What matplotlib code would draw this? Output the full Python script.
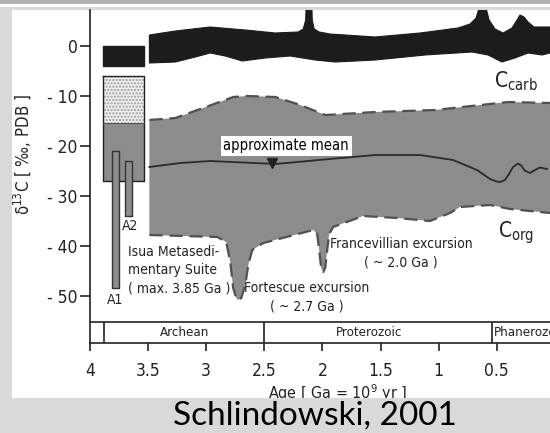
import matplotlib
matplotlib.use('Agg')
import matplotlib.pyplot as plt
from matplotlib import font_manager
from matplotlib.patches import Rectangle

# ---- data (age in Ga, delta13C in permil) ----
carb_top_age = [3.489, 3.266, 2.965, 2.664, 2.406, 2.208, 2.165, 2.144, 2.139, 2.092, 2.088, 2.071,
                2.028, 1.934, 1.547, 1.160, 0.833, 0.730, 0.678, 0.652, 0.635, 0.609, 0.592, 0.566,
                0.515, 0.446, 0.369, 0.326, 0.300, 0.266, 0.231, 0.180, 0.042]
carb_top_val = [2.2, 3.0, 3.8, 3.2, 2.6, 2.8, 3.4, 5.2, 9.2, 9.2, 5.2, 3.4,
                2.8, 2.4, 1.8, 2.6, 3.6, 4.4, 5.6, 7.6, 9.2, 9.2, 7.6, 5.2,
                3.4, 2.6, 3.6, 5.2, 6.2, 5.8, 4.8, 3.8, 3.8]
carb_bot_age = [3.489, 3.266, 3.094, 2.965, 2.836, 2.690, 2.492, 2.277, 2.062, 1.890, 1.547,
                1.117, 0.713, 0.575, 0.455, 0.343, 0.231, 0.111, 0.042]
carb_bot_val = [-3.4, -3.2, -2.2, -1.4, -2.0, -3.0, -2.4, -2.0, -2.8, -3.2, -2.8,
                -1.8, -1.2, -1.8, -3.2, -2.4, -1.4, -1.8, -1.4]

org_top_age = [3.489, 3.266, 3.051, 2.767, 2.647, 2.406, 2.191, 1.976, 1.547, 1.031, 0.799, 0.403, 0.042]
org_top_val = [-14.8, -14.4, -12.6, -10.2, -10.0, -10.2, -11.8, -13.8, -13.2, -12.8, -12.2, -11.2, -11.4]
org_bot_age = [3.489, 2.905, 2.828, 2.793, 2.768, 2.742, 2.725, 2.698, 2.664, 2.638, 2.604, 2.509,
               2.277, 2.079, 2.045, 2.028, 2.011, 1.993, 1.976, 1.959, 1.942, 1.908, 1.650,
               1.358, 1.074, 0.902, 0.816, 0.558, 0.386, 0.042]
org_bot_val = [-37.8, -38.2, -39.2, -43.2, -48.4, -50.4, -50.8, -50.4, -47.8, -43.8, -40.8, -39.4,
               -38.0, -36.8, -37.6, -40.8, -44.4, -45.2, -44.4, -40.8, -37.6, -36.2, -34.0,
               -34.4, -35.0, -33.4, -32.2, -31.8, -32.6, -33.4]

mean_age = [3.489, 3.223, 2.965, 2.406, 1.934, 1.547, 1.160, 0.876, 0.670, 0.558, 0.500, 0.472,
            0.430, 0.400, 0.360, 0.317, 0.290, 0.260, 0.214, 0.171, 0.128, 0.068]
mean_val = [-24.2, -23.4, -23.0, -23.6, -22.6, -21.8, -21.8, -22.8, -24.8, -26.6, -27.1, -27.2,
            -26.8, -25.8, -24.2, -23.5, -23.9, -24.9, -25.4, -24.8, -24.3, -24.6]

# Isua column (age range, value ranges)
isua_age = [3.885, 3.532]
isua_carb = [0.0, -4.1]
isua_stipple = [-6.0, -15.5]
isua_org = [-15.5, -27.1]
a1_age, a1_val = [3.809, 3.749], [-21.0, -48.4]
a2_age, a2_val = [3.697, 3.637], [-23.0, -34.0]

era_bounds = [3.88, 2.5, 0.54]
era_names = ['Archean', 'Proterozoic', 'Phanerozoic']
era_text_x = [3.19, 1.60, 0.525]

xticks = [4, 3.5, 3, 2.5, 2, 1.5, 1, 0.5]
xtick_labels = ['4', '3.5', '3', '2.5', '2', '1.5', '1', '0.5']
yticks = [0, -10, -20, -30, -40, -50]
ytick_labels = ['0', '- 10', '- 20', '- 30', '- 40', '- 50']

# ---- fonts: prefer a narrow/condensed sans (the scan uses Helvetica Narrow) ----
fam, stretch, narrow_found = 'Liberation Sans', 'normal', False
cands = [f for f in font_manager.fontManager.ttflist
         if ('narrow' in f.fname.lower() or 'condensed' in f.fname.lower())
         and f.style == 'normal' and f.weight in (400, 'normal', 'regular')]
cands.sort(key=lambda f: (0 if 'liberation' in f.fname.lower() else
                          1 if 'dejavusans' in f.fname.lower().replace('-', '') else 2))
if cands:
    fam, stretch, narrow_found = cands[0].name, cands[0].stretch, True

plt.rcParams['font.family'] = [fam, 'DejaVu Sans']
plt.rcParams['font.stretch'] = stretch
plt.rcParams['mathtext.fontset'] = 'custom'
plt.rcParams['mathtext.rm'] = fam
plt.rcParams['mathtext.it'] = fam + ':italic'
plt.rcParams['mathtext.bf'] = fam + ':bold'

ann = 10 if narrow_found else 9.5
tick_fs = 12.5 if narrow_found else 12

W, H = 550, 433
fig = plt.figure(figsize=(W / 100, H / 100), dpi=100, facecolor='#d9d9d9')

# slide-like frame
fig.patches.append(Rectangle((12 / W, 1 - 398 / H), 538 / W, 388 / H, transform=fig.transFigure,
                             facecolor='white', edgecolor='none', zorder=-2))
fig.patches.append(Rectangle((0, 1 - 4 / H), 1, 4 / H, transform=fig.transFigure,
                             facecolor='#b3b3b3', edgecolor='none', zorder=-2))
fig.patches.append(Rectangle((0, 1 - 7 / H), 1, 3 / H, transform=fig.transFigure,
                             facecolor='white', edgecolor='none', zorder=-2))

ax = fig.add_axes([90 / W, (H - 343) / H, (W - 90) / W, (343 - 10) / H])
ax.patch.set_visible(False)
ax.set_xlim(4.0, 0.042)
ax.set_ylim(-59.4, 7.2)

# C_org band
ax.fill(org_top_age + org_bot_age[::-1], org_top_val + org_bot_val[::-1],
        facecolor='#8c8c8c', edgecolor='none', zorder=1)
ax.plot(org_top_age, org_top_val, color='#505050', lw=1.6, dashes=(6, 3), zorder=2)
ax.plot(org_bot_age, org_bot_val, color='#505050', lw=1.6, dashes=(6, 3), zorder=2)
ax.plot(mean_age, mean_val, color='#2a2a2a', lw=1.3, zorder=3)

# C_carb band
ax.fill(carb_top_age + carb_bot_age[::-1], carb_top_val + carb_bot_val[::-1],
        facecolor='#1c1c1c', edgecolor='#1c1c1c', lw=0.8, zorder=2)

# Isua column
x0, x1 = isua_age
ax.fill_between([x0, x1], isua_carb[1], isua_carb[0], color='#1c1c1c', zorder=2)
ax.fill_between([x0, x1], isua_stipple[1], isua_stipple[0], facecolor='#eeeeee',
                edgecolor='#9a9a9a', hatch='.....', lw=0, zorder=2)
ax.fill_between([x0, x1], isua_org[1], isua_org[0], facecolor='#8c8c8c', lw=0, zorder=2)
ax.plot([x0, x1, x1, x0, x0], [isua_stipple[0], isua_stipple[0], isua_org[1], isua_org[1],
        isua_stipple[0]], color='#222222', lw=1.0, zorder=3)
ax.plot([x0, x1], [isua_org[0], isua_org[0]], color='#555555', lw=0.8, zorder=3)
for ages, vals in [(a1_age, a1_val), (a2_age, a2_val)]:
    ax.fill_between(ages, vals[1], vals[0], facecolor='#8c8c8c', edgecolor='#333333',
                    lw=1.0, zorder=4)

# mean marker and label
ax.plot([2.432], [-23.4], marker='v', color='#222222', markersize=7, zorder=5)
ax.text(2.311, -20.0, 'approximate mean', fontsize=ann + 0.5, ha='center', va='center', zorder=6,
        bbox=dict(facecolor='white', edgecolor='none', pad=2))

# annotations
ax.text(3.670, -44.8, 'Isua Metasedi-\nmentary Suite\n( max. 3.85 Ga )', fontsize=ann,
        ha='left', va='center', linespacing=1.4, color='#222222')
ax.text(3.78, -50.8, 'A1', fontsize=ann, ha='center', va='center', color='#222222')
ax.text(3.655, -36.0, 'A2', fontsize=ann, ha='center', va='center', color='#222222')
ax.text(2.138, -50.3, 'Fortescue excursion\n( ~ 2.7 Ga )', fontsize=ann, ha='center',
        va='center', linespacing=1.45, color='#222222')
ax.text(1.323, -41.4, 'Francevillian excursion\n( ~ 2.0 Ga )', fontsize=ann, ha='center',
        va='center', linespacing=1.45, color='#222222')
ax.text(0.334, -7.0, r'C$_{\mathrm{carb}}$', fontsize=15, ha='center', va='center', color='#222222')
ax.text(0.334, -37.4, r'C$_{\mathrm{org}}$', fontsize=15, ha='center', va='center', color='#222222')

# geological era band
ax.axhline(-55.3, color='#222222', lw=1.2, zorder=4)
ax.vlines(era_bounds, -59.4, -55.3, color='#222222', lw=1.2, zorder=4)
for name, xt in zip(era_names, era_text_x):
    ax.text(xt, -57.35, name, fontsize=ann - 0.5, ha='left' if name == 'Phanerozoic' else 'center',
            va='center', color='#222222', clip_on=True)

# axes styling
for side in ['top', 'right']:
    ax.spines[side].set_visible(False)
for side in ['left', 'bottom']:
    ax.spines[side].set_linewidth(1.2)
    ax.spines[side].set_color('#222222')
ax.set_xticks(xticks)
ax.set_xticklabels(xtick_labels)
ax.set_yticks(yticks)
ax.set_yticklabels(ytick_labels)
ax.tick_params(axis='x', direction='out', length=6, width=1.2, pad=8, labelsize=tick_fs,
               colors='#222222')
ax.tick_params(axis='y', direction='out', length=7, width=1.2, pad=2, labelsize=tick_fs,
               colors='#222222')

fig.text(22 / W, 1 - 155 / H, r'δ$^{13}$C [ ‰, PDB ]', rotation=90, fontsize=tick_fs - 0.5,
         ha='center', va='center', color='#222222')
fig.text(338 / W, 1 - 393 / H, r'Age [ Ga = 10$^{9}$ yr ]', fontsize=tick_fs - 1,
         ha='center', va='center', color='#222222')

# caption band
fig.patches.append(Rectangle((0, 0), 1, 35 / H, transform=fig.transFigure,
                             facecolor='#d9d9d9', edgecolor='none', zorder=10))
fig.text(315 / W, 1 - 416 / H, 'Schlindowski, 2001', fontsize=24, family='Lato',
         ha='center', va='center', color='black', zorder=11)

fig.savefig('out.png', dpi=100, facecolor=fig.get_facecolor())
